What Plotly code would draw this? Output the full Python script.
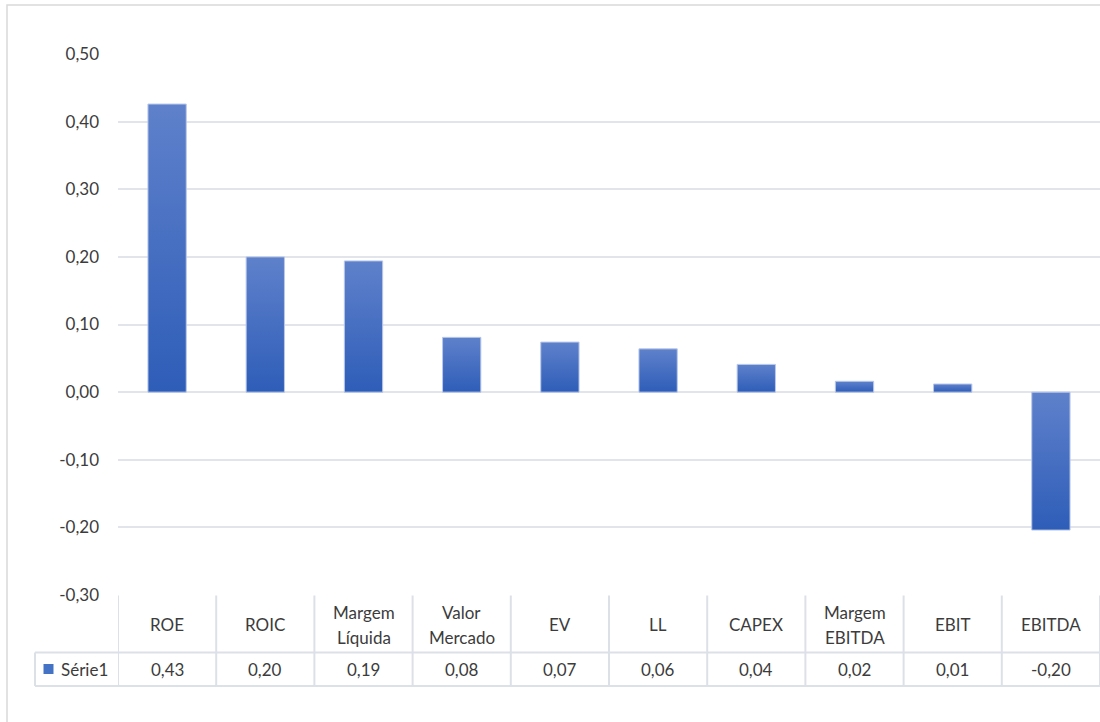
import plotly.graph_objects as go

# Indicator names (header row of the data table) and their values
categories = ["ROE", "ROIC", "Margem<br>Líquida", "Valor<br>Mercado", "EV", "LL",
              "CAPEX", "Margem<br>EBITDA", "EBIT", "EBITDA"]
values = [0.426, 0.200, 0.194, 0.081, 0.074, 0.064, 0.041, 0.016, 0.012, -0.204]
series_name = "Série1"

tick_vals = [0.5, 0.4, 0.3, 0.2, 0.1, 0.0, -0.1, -0.2, -0.3]
tick_text = ["0,50", "0,40", "0,30", "0,20", "0,10", "0,00", "-0,10", "-0,20", "-0,30"]

W, H = 1100, 722
ML, MR, MT, MB = 118, 0, 54, 127
PW, PH = W - ML - MR, H - MT - MB

FONT = "Lato"
TXT = "#3C3C3C"
GRID = "#E1E4EA"
BAR_TOP = "#5F81CB"
BAR_BOT = "#2E5DB8"


def px_x(px):
    return (px - ML) / PW


def px_y(py):
    return (H - MB - py) / PH


fig = go.Figure()

bar_w = 0.39
for i, v in enumerate(values):
    x0, x1 = i - bar_w / 2, i + bar_w / 2
    fig.add_trace(go.Scatter(
        x=[x0, x1, x1, x0, x0],
        y=[0, 0, v, v, 0],
        mode="lines",
        fill="toself",
        fillgradient=dict(type="vertical", colorscale=[[0, BAR_BOT], [1, BAR_TOP]]),
        line=dict(color="#B9C8EA", width=1),
        hoverinfo="skip",
        showlegend=False,
    ))

shapes = []
annotations = []

# Outer chart frame (right/bottom edges run off the canvas)
shapes.append(dict(type="rect", xref="paper", yref="paper",
                   x0=px_x(7), x1=px_x(1120), y0=px_y(740), y1=px_y(5),
                   line=dict(color="#D9D9D9", width=1.5), layer="below"))

# Data table under the plot
y_top, y_mid, y_bot = px_y(595.5), px_y(652.5), px_y(686)
line_style = dict(color="#DCE0E7", width=2)
n = len(categories)
shapes.append(dict(type="line", xref="paper", yref="paper",
                   x0=px_x(35), x1=1, y0=y_mid, y1=y_mid, line=line_style))
shapes.append(dict(type="line", xref="paper", yref="paper",
                   x0=px_x(35), x1=1, y0=y_bot, y1=y_bot, line=line_style))
shapes.append(dict(type="line", xref="paper", yref="paper",
                   x0=px_x(35), x1=px_x(35), y0=y_mid, y1=y_bot, line=line_style))
for k in range(n + 1):
    shapes.append(dict(type="line", xref="x", yref="paper",
                       x0=k - 0.5, x1=k - 0.5, y0=y_top, y1=y_bot, line=line_style))

# Legend key inside the table
shapes.append(dict(type="rect", xref="paper", yref="paper",
                   x0=px_x(43.5), x1=px_x(53.5), y0=px_y(674), y1=px_y(664),
                   fillcolor="#4472C4", line=dict(width=0)))
annotations.append(dict(xref="paper", yref="paper", x=px_x(59), y=px_y(669.5),
                        text=series_name, showarrow=False, xanchor="left",
                        yanchor="middle", font=dict(family=FONT, size=17, color=TXT)))

for i, (cat, v) in enumerate(zip(categories, values)):
    lines = cat.split("<br>")
    if len(lines) == 1:
        centers = [624.5]
    else:
        centers = [612, 637]
    for ln, cy in zip(lines, centers):
        annotations.append(dict(xref="x", yref="paper", x=i, y=px_y(cy), text=ln,
                                showarrow=False, xanchor="center", yanchor="middle",
                                font=dict(family=FONT, size=17, color=TXT)))
    label = f"{v:.2f}".replace(".", ",")
    annotations.append(dict(xref="x", yref="paper", x=i, y=px_y(669.5), text=label,
                            showarrow=False, xanchor="center", yanchor="middle",
                            font=dict(family=FONT, size=17, color=TXT)))

fig.update_layout(
    width=W, height=H,
    margin=dict(l=ML, r=MR, t=MT, b=MB),
    paper_bgcolor="white", plot_bgcolor="white",
    shapes=shapes, annotations=annotations,
    showlegend=False,
    xaxis=dict(range=[-0.5, n - 0.5], showgrid=False, zeroline=False,
               showticklabels=False, ticks="", fixedrange=True),
    yaxis=dict(range=[-0.3, 0.5], tickvals=tick_vals, ticktext=tick_text,
               showgrid=True, gridcolor=GRID, gridwidth=2,
               zeroline=True, zerolinecolor=GRID, zerolinewidth=2,
               ticks="", ticklabelstandoff=18,
               tickfont=dict(family=FONT, size=17, color=TXT), fixedrange=True),
)

fig.write_html("out.html")
